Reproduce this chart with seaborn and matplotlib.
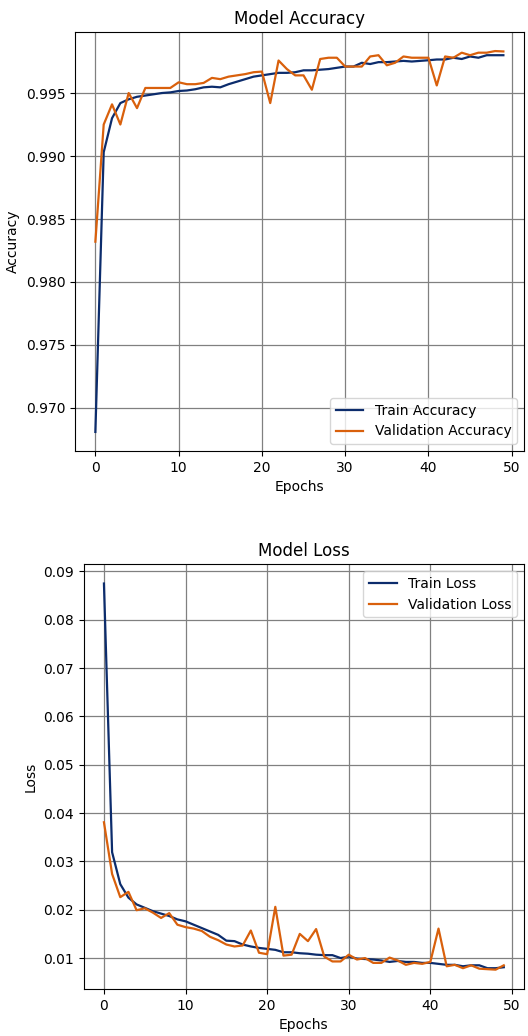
import numpy as np
import pandas as pd
from matplotlib import pyplot as plt
import seaborn as sns

epochs = list(range(50))

train_acc = [0.9681, 0.9903, 0.9930, 0.9942, 0.9945, 0.9947, 0.9948, 0.9949, 0.9950, 0.99505,
             0.99516, 0.9952, 0.9953, 0.99545, 0.9955, 0.99545, 0.9957, 0.9959, 0.9961, 0.9963,
             0.9964, 0.9965, 0.9966, 0.9966, 0.99665, 0.9968, 0.9968, 0.99685, 0.9969, 0.9970,
             0.9971, 0.9971, 0.9974, 0.9973, 0.99745, 0.99745, 0.9975, 0.99755, 0.9975, 0.99755,
             0.9976, 0.99766, 0.99766, 0.9978, 0.9977, 0.9979, 0.9978, 0.9980, 0.9980, 0.9980]

val_acc = [0.9832, 0.9925, 0.9941, 0.9925, 0.9950, 0.9938, 0.9954, 0.9954, 0.9954, 0.9954,
           0.99585, 0.9957, 0.9957, 0.9958, 0.9962, 0.9961, 0.9963, 0.9964, 0.9965, 0.99665,
           0.9967, 0.9942, 0.99758, 0.9969, 0.9964, 0.9964, 0.99526, 0.9977, 0.9978, 0.9978,
           0.9971, 0.9971, 0.9971, 0.9979, 0.9980, 0.9972, 0.9974, 0.9979, 0.9978, 0.9978,
           0.9978, 0.9956, 0.9979, 0.9978, 0.9982, 0.9980, 0.9982, 0.9982, 0.99833, 0.9983]

train_loss = [0.0875, 0.0319, 0.0253, 0.0225, 0.0211, 0.0204, 0.0197, 0.0192, 0.0187, 0.0180,
              0.0176, 0.0169, 0.0162, 0.0155, 0.0148, 0.0136, 0.0135, 0.0128, 0.0124, 0.0121,
              0.0119, 0.0117, 0.0112, 0.0112, 0.0110, 0.0109, 0.0107, 0.0106, 0.0106, 0.0100,
              0.0103, 0.0099, 0.0098, 0.0097, 0.0095, 0.0092, 0.0094, 0.0092, 0.0092, 0.0090,
              0.0090, 0.0088, 0.0086, 0.0086, 0.0083, 0.0085, 0.0085, 0.0079, 0.0079, 0.0081]

val_loss = [0.0381, 0.0274, 0.0226, 0.0237, 0.0199, 0.0203, 0.0194, 0.0183, 0.0193, 0.0169,
            0.0164, 0.0161, 0.0156, 0.0144, 0.0137, 0.0128, 0.0124, 0.0126, 0.0157, 0.0111,
            0.0108, 0.0206, 0.0105, 0.0107, 0.0150, 0.0135, 0.0160, 0.0103, 0.0093, 0.0093,
            0.0107, 0.0097, 0.0100, 0.0090, 0.0090, 0.0101, 0.0095, 0.0086, 0.0090, 0.0088,
            0.0092, 0.0161, 0.0083, 0.0086, 0.0079, 0.0085, 0.0078, 0.0077, 0.0076, 0.0085]

train_color = '#0c2c6c'
val_color = '#d9600c'

df = pd.DataFrame({'epoch': epochs, 'train_acc': train_acc, 'val_acc': val_acc,
                   'train_loss': train_loss, 'val_loss': val_loss})

fig = plt.figure(figsize=(5.28, 10.36), dpi=100)
ax1 = fig.add_axes([0.142, 0.5647, 0.850, 0.4044])
ax2 = fig.add_axes([0.159, 0.0454, 0.833, 0.410])

sns.lineplot(x='epoch', y='train_acc', data=df, ax=ax1, color=train_color, label='Train Accuracy', linewidth=1.6)
sns.lineplot(x='epoch', y='val_acc', data=df, ax=ax1, color=val_color, label='Validation Accuracy', linewidth=1.6)
sns.lineplot(x='epoch', y='train_loss', data=df, ax=ax2, color=train_color, label='Train Loss', linewidth=1.6)
sns.lineplot(x='epoch', y='val_loss', data=df, ax=ax2, color=val_color, label='Validation Loss', linewidth=1.6)

ax1.set_title('Model Accuracy', fontsize=12)
ax1.set_xlabel('Epochs')
ax1.set_ylabel('Accuracy')
ax1.legend(loc='lower right')
ax1.grid(True, color='#808080', linewidth=0.9)
ax1.set_axisbelow(True)

ax2.set_title('Model Loss', fontsize=12)
ax2.set_xlabel('Epochs')
ax2.set_ylabel('Loss')
ax2.legend(loc='upper right')
ax2.grid(True, color='#808080', linewidth=0.9)
ax2.set_axisbelow(True)

plt.savefig('out.png', dpi=100)
